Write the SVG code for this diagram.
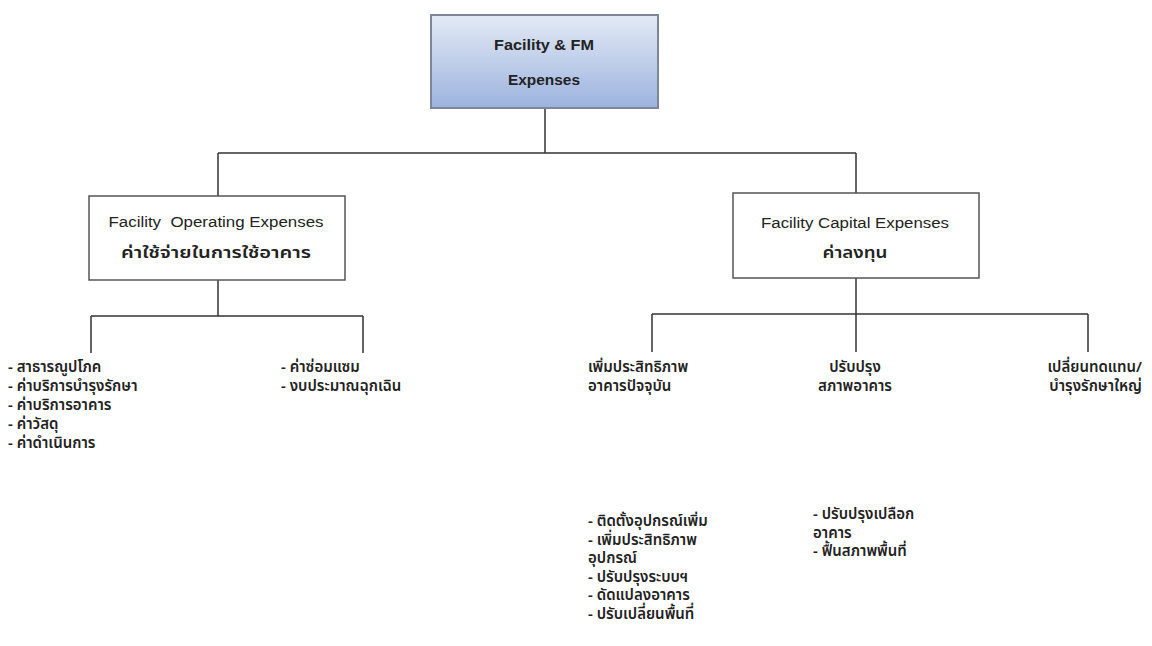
<svg xmlns="http://www.w3.org/2000/svg" width="1152" height="646" viewBox="0 0 1152 646">
<style>
.box{fill:#fff;stroke:#555;stroke-width:1.5}
.top{fill:url(#g);stroke:#7d8797;stroke-width:2}
.en{font-family:"Liberation Sans",Arial,sans-serif;font-size:14px;fill:#222}
.enb{font-family:"Liberation Sans",Arial,sans-serif;font-size:14px;font-weight:bold;fill:#222}
.thb{font-family:"Noto Sans Thai","Tahoma","DejaVu Sans","Noto Sans",sans-serif;font-size:16px;font-weight:600;fill:#222}
.th{font-family:"Noto Sans Thai","Tahoma","DejaVu Sans","Noto Sans",sans-serif;font-size:15px;font-weight:600;fill:#222}
.c{stroke:#333;stroke-width:1.5;fill:none}
</style>
<defs>
<linearGradient id="g" x1="0" y1="0" x2="0" y2="1">
<stop offset="0" stop-color="#e3eaf6"/>
<stop offset="1" stop-color="#9cb3de"/>
</linearGradient>
</defs>
<rect width="1152" height="646" fill="#fff"/>
<g id="connectors">
<path class="c" d="M545 108V153M218 153H856M218 153V196M856 153V193"/>
<path class="c" d="M218 280V316M91 316H363M91 316V353M363 316V353"/>
<path class="c" d="M856 278V314M652 314H1088M652 314V352M856 314V352M1088 314V352"/>
</g>
<g id="root">
<rect class="top" x="431" y="15" width="227" height="93"/>
<text class="enb" x="544" y="50" text-anchor="middle" textLength="100" lengthAdjust="spacingAndGlyphs">Facility &amp; FM</text>
<text class="enb" x="544" y="85" text-anchor="middle" textLength="72" lengthAdjust="spacingAndGlyphs">Expenses</text>
</g>
<g id="opex">
<rect class="box" x="89" y="196" width="256" height="84"/>
<text class="en" x="216" y="227" text-anchor="middle" textLength="215" lengthAdjust="spacingAndGlyphs" xml:space="preserve">Facility  Operating Expenses</text>
<text class="thb" x="216" y="258" text-anchor="middle" textLength="190" lengthAdjust="spacingAndGlyphs">ค่าใช้จ่ายในการใช้อาคาร</text>
</g>
<g id="capex">
<rect class="box" x="733" y="193" width="246" height="85"/>
<text class="en" x="855" y="228" text-anchor="middle" textLength="188" lengthAdjust="spacingAndGlyphs">Facility Capital Expenses</text>
<text class="thb" x="855" y="258" text-anchor="middle" textLength="65" lengthAdjust="spacingAndGlyphs">ค่าลงทุน</text>
</g>
<g id="opex-list1">
<text class="th" x="8" y="372">- สาธารณูปโภค</text>
<text class="th" x="8" y="391">- ค่าบริการบำรุงรักษา</text>
<text class="th" x="8" y="410">- ค่าบริการอาคาร</text>
<text class="th" x="8" y="429">- ค่าวัสดุ</text>
<text class="th" x="8" y="448">- ค่าดำเนินการ</text>
</g>
<g id="opex-list2">
<text class="th" x="281" y="372">- ค่าซ่อมแซม</text>
<text class="th" x="281" y="391">- งบประมาณฉุกเฉิน</text>
</g>
<g id="capex-1">
<text class="th" x="588" y="372">เพิ่มประสิทธิภาพ</text>
<text class="th" x="588" y="391">อาคารปัจจุบัน</text>
</g>
<g id="capex-2">
<text class="th" x="855" y="372" text-anchor="middle">ปรับปรุง</text>
<text class="th" x="855" y="391" text-anchor="middle">สภาพอาคาร</text>
</g>
<g id="capex-3">
<text class="th" x="1142" y="372" text-anchor="end">เปลี่ยนทดแทน/</text>
<text class="th" x="1142" y="391" text-anchor="end">บำรุงรักษาใหญ่</text>
</g>
<g id="capex-1-list">
<text class="th" x="588" y="526">- ติดตั้งอุปกรณ์เพิ่ม</text>
<text class="th" x="588" y="544.5">- เพิ่มประสิทธิภาพ</text>
<text class="th" x="588" y="563">อุปกรณ์</text>
<text class="th" x="588" y="581.5">- ปรับปรุงระบบฯ</text>
<text class="th" x="588" y="600">- ดัดแปลงอาคาร</text>
<text class="th" x="588" y="618.5">- ปรับเปลี่ยนพื้นที่</text>
</g>
<g id="capex-2-list">
<text class="th" x="813" y="519">- ปรับปรุงเปลือก</text>
<text class="th" x="813" y="537.5">อาคาร</text>
<text class="th" x="813" y="556">- ฟื้นสภาพพื้นที่</text>
</g>
</svg>
